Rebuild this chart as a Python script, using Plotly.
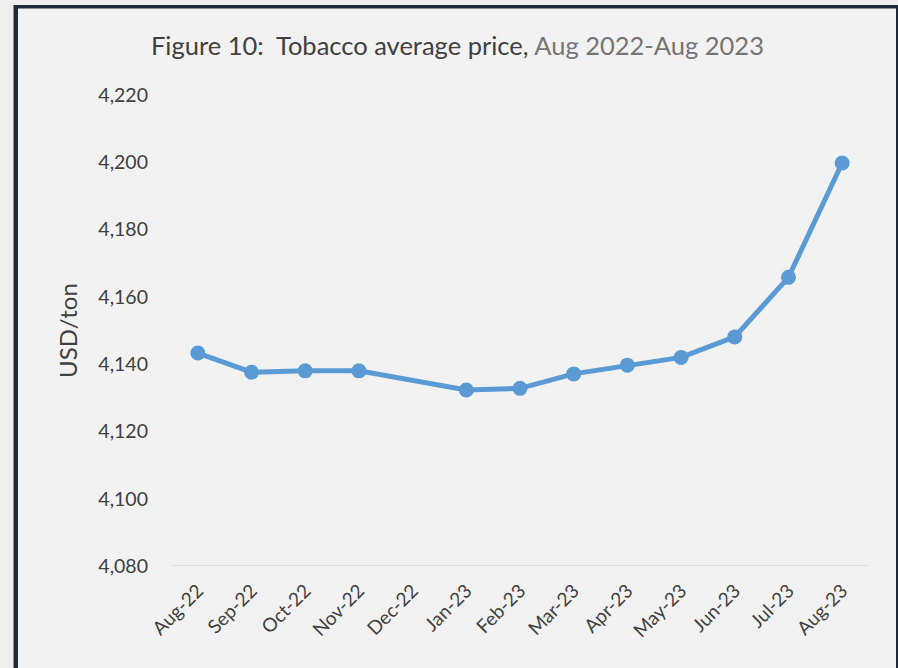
import plotly.graph_objects as go

# Monthly tobacco average price (USD/ton); no figure reported for Dec-22
months = ["Aug-22", "Sep-22", "Oct-22", "Nov-22", "Dec-22", "Jan-23", "Feb-23",
          "Mar-23", "Apr-23", "May-23", "Jun-23", "Jul-23", "Aug-23"]
prices = [4143.3, 4137.6, 4138.0, 4138.0, None, 4132.3, 4132.8,
          4137.1, 4139.7, 4142.0, 4148.1, 4165.8, 4199.8]
y_ticks = [4080, 4100, 4120, 4140, 4160, 4180, 4200, 4220]

W, H = 898, 668
L, R, T, B = 171, 29, 95, 102
FONT = "Lato"
INK = "#404040"


def px(x):
    return (x - L) / (W - L - R)


def py(y):
    return (H - B - y) / (H - T - B)


fig = go.Figure()
fig.add_trace(go.Scatter(
    x=months, y=prices, mode="lines+markers", connectgaps=True,
    line=dict(color="#5B9BD5", width=5),
    marker=dict(color="#5B9BD5", size=15),
    hoverinfo="x+y", showlegend=False,
))

fig.update_layout(
    width=W, height=H,
    margin=dict(l=L, r=R, t=T, b=B, pad=0),
    paper_bgcolor="#EEEEEE",
    plot_bgcolor="rgba(0,0,0,0)",
    font=dict(family=FONT, color=INK),
    xaxis=dict(
        type="category", range=[-0.5, 12.5], showgrid=False, zeroline=False,
        showline=False, ticks="", tickangle=-45, ticklabelstandoff=9,
        tickfont=dict(size=19, color=INK, family=FONT),
    ),
    yaxis=dict(
        range=[4080, 4220], tickvals=y_ticks, tickformat=",d",
        showgrid=False, zeroline=False, showline=False, ticks="",
        ticklabelstandoff=22,
        tickfont=dict(size=19.5, color=INK, family=FONT),
    ),
    shapes=[
        # dark frame around the chart panel
        dict(type="rect", xref="paper", yref="paper", layer="below",
             x0=px(13.5), x1=px(W + 2), y0=py(H + 2), y1=py(5),
             fillcolor="#1F2A37", line=dict(width=0)),
        # light panel inside the frame
        dict(type="rect", xref="paper", yref="paper", layer="below",
             x0=px(18), x1=px(896), y0=py(H + 2), y1=py(8.5),
             fillcolor="#F2F2F2", line=dict(width=0)),
        # baseline at the bottom of the value axis
        dict(type="line", xref="paper", yref="y", layer="below",
             x0=0, x1=1, y0=4080, y1=4080,
             line=dict(color="#D9D9D9", width=1.5)),
    ],
    annotations=[
        dict(xref="paper", yref="paper", x=px(457), y=py(45),
             xanchor="center", yanchor="middle", showarrow=False,
             text="Figure 10:  Tobacco average price, "
                  "<span style='color:#767676'>Aug 2022-Aug 2023</span>",
             font=dict(size=25.5, color=INK, family=FONT)),
        dict(xref="paper", yref="paper", x=px(67), y=py(331),
             xanchor="center", yanchor="middle", showarrow=False,
             textangle=-90, text="USD/ton",
             font=dict(size=24, color=INK, family=FONT)),
    ],
)

fig.write_html("out.html")
